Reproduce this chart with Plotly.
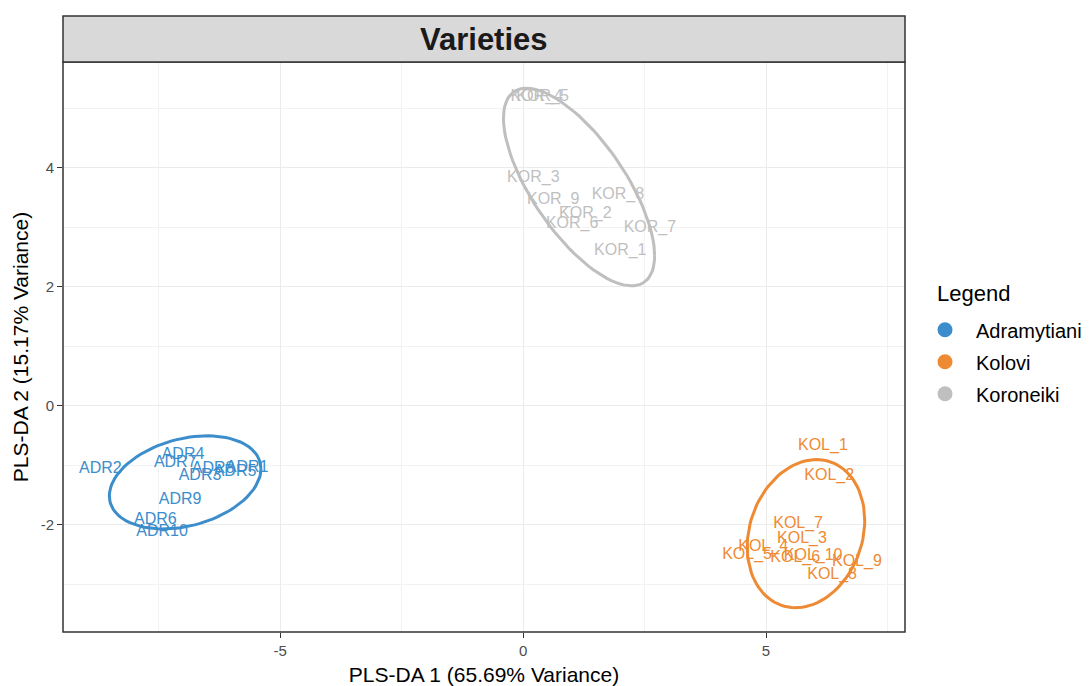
import numpy as np
import plotly.graph_objects as go

# ---------------- data ----------------
adr_labels = ["ADR1", "ADR2", "ADR3", "ADR4", "ADR5", "ADR6", "ADR7", "ADR8", "ADR9", "ADR10"]
adr_x = [-5.68, -8.70, -6.65, -7.00, -5.93, -7.57, -7.16, -6.38, -7.06, -7.43]
adr_y = [-1.04, -1.06, -1.18, -0.82, -1.11, -1.92, -0.96, -1.06, -1.58, -2.12]

kol_labels = ["KOL_1", "KOL_2", "KOL_3", "KOL_4", "KOL_5", "KOL_6", "KOL_7", "KOL_8", "KOL_9", "KOL_10"]
kol_x = [6.17, 6.30, 5.74, 4.94, 4.61, 5.60, 5.66, 6.36, 6.87, 5.97]
kol_y = [-0.67, -1.18, -2.24, -2.37, -2.50, -2.55, -1.98, -2.84, -2.62, -2.52]

kor_labels = ["KOR_1", "KOR_2", "KOR_3", "KOR_4", "KOR_5", "KOR_6", "KOR_7", "KOR_8", "KOR_9"]
kor_x = [2.00, 1.28, 0.21, 0.28, 0.40, 1.01, 2.61, 1.95, 0.62]
kor_y = [2.61, 3.23, 3.83, 5.19, 5.19, 3.06, 2.99, 3.55, 3.46]

group_names = ["Adramytiani", "Kolovi", "Koroneiki"]
group_colors = ["#3B8DCC", "#EE8A33", "#BFBFBF"]

x_ticks = [-5, 0, 5]
y_ticks = [-2, 0, 2, 4]
x_title = "PLS-DA 1 (65.69% Variance)"
y_title = "PLS-DA 2 (15.17% Variance)"
panel_title = "Varieties"
legend_title = "Legend"
ellipse_level = 0.80

FONT = "Liberation Sans, Arial, sans-serif"


# --------------- confidence ellipse from each group's points ---------------
def ellipse(xs, ys, level=ellipse_level, segments=100):
    pts = np.column_stack([xs, ys])
    center = pts.mean(0)
    cov = np.cov(pts, rowvar=False)
    radius = np.sqrt(-2.0 * np.log(1.0 - level))  # sqrt(qchisq(level, 2))
    ang = np.linspace(0, 2 * np.pi, segments + 1)
    circ = np.column_stack([np.cos(ang), np.sin(ang)])
    L = np.linalg.cholesky(cov)
    e = center + radius * (circ @ L.T)
    return e[:, 0], e[:, 1]


fig = go.Figure()

groups = [(adr_labels, adr_x, adr_y), (kol_labels, kol_x, kol_y), (kor_labels, kor_x, kor_y)]
for (labs, xs, ys), name, col in zip(groups, group_names, group_colors):
    ex, ey = ellipse(xs, ys)
    fig.add_trace(go.Scatter(x=ex, y=ey, mode="lines", line=dict(color=col, width=3),
                             showlegend=False, hoverinfo="skip"))
for (labs, xs, ys), name, col in zip(groups, group_names, group_colors):
    fig.add_trace(go.Scatter(x=xs, y=ys, mode="text", text=labs,
                             textfont=dict(color=col, size=16, family=FONT),
                             textposition="middle center", showlegend=False, name=name))
for name, col in zip(group_names, group_colors):
    fig.add_trace(go.Scatter(x=[None], y=[None], mode="markers", name=name,
                             legendgroup=name, marker=dict(color=col, size=15)))

axis_common = dict(showline=False, zeroline=False, ticks="outside", ticklen=5,
                   tickcolor="#333333", tickwidth=1, automargin=False,
                   tickfont=dict(size=15, color="#4D4D4D", family=FONT),
                   gridcolor="#EBEBEB", gridwidth=1)

fig.update_xaxes(range=[-9.47, 7.86], tickvals=x_ticks, ticktext=[str(v) for v in x_ticks],
                 title=dict(text=x_title, font=dict(size=21, color="black", family=FONT), standoff=10),
                 minor=dict(tickvals=[-7.5, -2.5, 2.5, 7.5], showgrid=True, gridcolor="#F2F2F2",
                            gridwidth=1, ticks=""),
                 **axis_common)
fig.update_yaxes(range=[-3.80, 5.78], tickvals=y_ticks, ticktext=[str(v) for v in y_ticks],
                 title=dict(text=y_title, font=dict(size=21, color="black", family=FONT), standoff=6),
                 minor=dict(tickvals=[-3, -1, 1, 3, 5], showgrid=True, gridcolor="#F2F2F2",
                            gridwidth=1, ticks=""),
                 **axis_common)

plot_h = 570
strip_top = 1 + 46 / plot_h

fig.add_shape(type="rect", xref="paper", yref="paper", x0=0, x1=1, y0=0, y1=1,
              line=dict(color="#333333", width=1.5), fillcolor="rgba(0,0,0,0)", layer="above")
fig.add_shape(type="rect", xref="paper", yref="paper", x0=0, x1=1, y0=1, y1=strip_top,
              line=dict(color="#333333", width=1.5), fillcolor="#D9D9D9", layer="above")
fig.add_annotation(xref="paper", yref="paper", x=0.5, y=(1 + strip_top) / 2, text=f"<b>{panel_title}</b>",
                   showarrow=False, font=dict(size=31, color="#1A1A1A", family=FONT),
                   xanchor="center", yanchor="middle")
# legend title
fig.add_annotation(xref="paper", yref="paper", x=(927 - 55) / 842, y=(624 - 285) / plot_h,
                   text=legend_title, showarrow=False, xanchor="left", yanchor="middle",
                   font=dict(size=22, color="black", family=FONT))

# the page adds an 8px body margin, so the figure is sized to fit the window
fig.update_layout(
    width=1083, height=678,
    margin=dict(l=55, r=186, t=54, b=54, autoexpand=False),
    paper_bgcolor="white", plot_bgcolor="white",
    font=dict(family=FONT, color="black"),
    legend=dict(font=dict(size=20), x=1.0107, y=0.5645, xanchor="left", yanchor="top",
                tracegroupgap=3, itemsizing="trace", itemwidth=52),
)

fig.write_html("out.html")
